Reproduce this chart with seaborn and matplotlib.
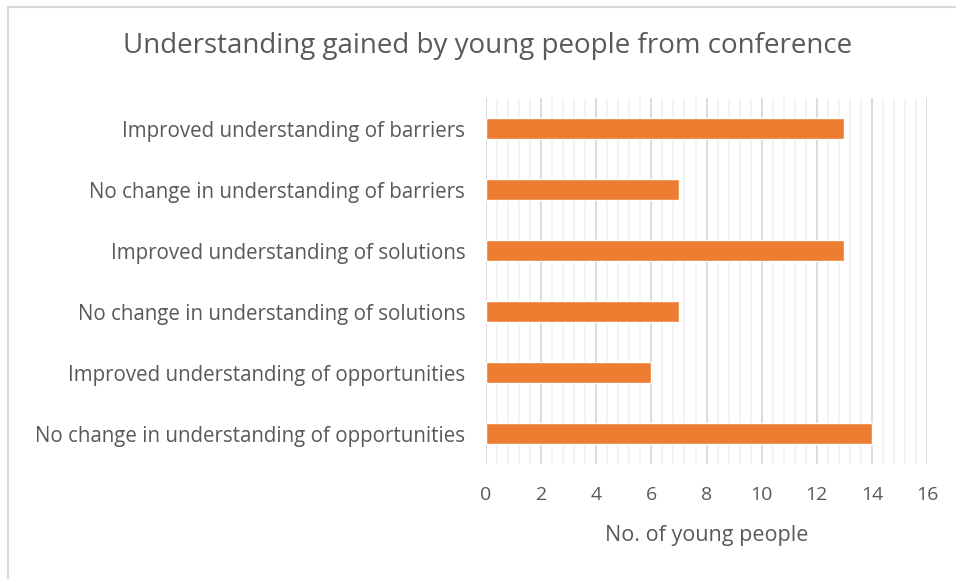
import numpy as np
import pandas as pd
import matplotlib
matplotlib.use("Agg")
import matplotlib.pyplot as plt
import seaborn as sns
from matplotlib.lines import Line2D
from matplotlib.ticker import MultipleLocator

categories = [
    "Improved understanding of barriers",
    "No change in understanding of barriers",
    "Improved understanding of solutions",
    "No change in understanding of solutions",
    "Improved understanding of opportunities",
    "No change in understanding of opportunities",
]
counts = [13, 7, 13, 7, 6, 14]
xticks = [0, 2, 4, 6, 8, 10, 12, 14, 16]

df = pd.DataFrame({"category": categories, "count": counts})

sns.set_theme(style="white")
plt.rcParams["font.family"] = ["Open Sans", "DejaVu Sans"]

TEXT = "#595959"
fig = plt.figure(figsize=(9.56, 5.79), dpi=100)
ax = fig.add_axes([0.5084, 0.1986, 0.9697 - 0.5084, 0.8307 - 0.1986])

sns.barplot(data=df, x="count", y="category", orient="h", color="#ED7D31",
            saturation=1, width=0.34, ax=ax, zorder=3)

ax.set_xlim(0, 16)
ax.set_xticks(xticks)
ax.set_xticklabels([str(t) for t in xticks])
ax.xaxis.set_minor_locator(MultipleLocator(0.4))
ax.grid(axis="x", which="major", color="#D9D9D9", linewidth=1.3, zorder=0)
ax.grid(axis="x", which="minor", color="#F2F2F2", linewidth=1.3, zorder=0)
ax.grid(axis="y", visible=False)
ax.set_axisbelow(True)
for s in ax.spines.values():
    s.set_visible(False)
ax.axvline(0, color="#D9D9D9", linewidth=1.3, zorder=1)

ax.tick_params(axis="both", which="both", length=0)
ax.tick_params(axis="x", labelsize=14, labelcolor=TEXT, pad=16)
ax.tick_params(axis="y", labelsize=14.8, labelcolor=TEXT, pad=15)
ax.set_ylabel("")
ax.set_xlabel("No. of young people", fontsize=15.5, color=TEXT, labelpad=15)

fig.text(488 / 956, 1 - 46 / 579, "Understanding gained by young people from conference",
         ha="center", va="center", fontsize=20, color=TEXT)

# chart border (top and left visible)
fig.add_artist(Line2D([7.5 / 956, 1], [1 - 6.5 / 579, 1 - 6.5 / 579],
                      transform=fig.transFigure, color="#D9D9D9", linewidth=1.5))
fig.add_artist(Line2D([7.5 / 956, 7.5 / 956], [0, 1 - 6.5 / 579],
                      transform=fig.transFigure, color="#D9D9D9", linewidth=1.5))

fig.savefig("out.png", dpi=100)
